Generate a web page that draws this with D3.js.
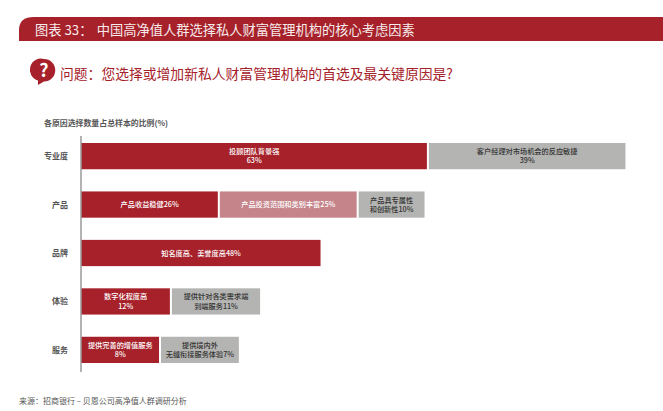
<!DOCTYPE html>
<html><head><meta charset="utf-8">
<script src="https://cdn.jsdelivr.net/npm/d3@7/dist/d3.min.js"></script>
<style>html,body{margin:0;padding:0;background:#fff}svg{display:block}text{font-family:"Noto Sans CJK SC","Noto Sans",sans-serif}</style>
</head><body><svg id="c" width="663" height="411"></svg>
<script>
// Category rows, top to bottom
const categories = ["专业度","产品","品牌","体验","服务"];
// Segment lengths as drawn in the picture (share of the longest bar = 100).
// The printed percentages are labels only: the source's bars do not scale with them.
const row1Lengths = [63.8, 36.1];
const row2Lengths = [25.4, 25.5, 12.1];
const row3Lengths = [43.9];
const row4Lengths = [16.6, 16.2];
const row5Lengths = [14.6, 14.3];
const row1Labels = [["投顾团队背景强","63%"],["客户经理对市场机会的反应敏捷","39%"]];
const row2Labels = [["产品收益稳健26%"],["产品投资范围和类别丰富25%"],["产品具专属性","和创新性10%"]];
const row3Labels = [["知名度高、美誉度高48%"]];
const row4Labels = [["数字化程度高","12%"],["提供针对各类需求端","到端服务11%"]];
const row5Labels = [["提供完善的增值服务","8%"],["提供境内外","无缝衔接服务体验7%"]];
const row1Kinds = ["main","other"];
const row2Kinds = ["main","second","other"];
const row3Kinds = ["main"];
const row4Kinds = ["main","other"];
const row5Kinds = ["main","other"];
const titlePrefix = "图表 33：";
const titleText = "中国高净值人群选择私人财富管理机构的核心考虑因素";
const questionText = "问题：您选择或增加新私人财富管理机构的首选及最关键原因是?";
const axisTitle = "各原因选择数量占总样本的比例(%)";
const sourceText = "来源：招商银行 – 贝恩公司高净值人群调研分析";

const RED="#a6212a", PINK="#c4848a", GRAY="#b4b4b2";
const fills={main:RED,second:PINK,other:GRAY};
const inks={main:"#fff",second:"#fff",other:"#333"};
const svg=d3.select("#c");

// header band
svg.append("path").attr("d","M19,41 V30 Q19,17 34,17 H663 V41 Z").attr("fill",RED);
const tt=svg.append("text").attr("y",34.5).attr("font-size",13.26).attr("fill","#f7ecec");
tt.append("tspan").attr("x",35).text(titlePrefix);
tt.append("tspan").attr("x",96.7).text(titleText);

// question
svg.append("path").attr("d","M44,59 a11,11 0 1 1 0,22.5 l-6,3.5 l0,-4.5 a11,11 0 0 1 6,-21.5 Z").attr("fill",RED);
svg.append("text").attr("x",44).attr("y",76.5).attr("text-anchor","middle").attr("font-size",18).attr("font-weight",700).attr("fill","#fff").attr("font-family","Liberation Sans").text("?");
svg.append("text").attr("x",60).attr("y",78.5).attr("font-size",13.8).attr("fill","#a6212a").text(questionText);

svg.append("text").attr("x",44).attr("y",126).attr("font-size",7.9).attr("font-weight",700).attr("fill","#555").text(axisTitle);

const x=d3.scaleLinear().domain([0,100]).range([81.5,626]);
const y=d3.scaleBand().domain(categories).range([143,363]).paddingInner(22/48).paddingOuter(0);
const rows=[[row1Lengths,row1Labels,row1Kinds],[row2Lengths,row2Labels,row2Kinds],[row3Lengths,row3Labels,row3Kinds],[row4Lengths,row4Labels,row4Kinds],[row5Lengths,row5Labels,row5Kinds]];
const gap=2;
categories.forEach((c,i)=>{
  const [lens,labs,kinds]=rows[i];
  const yy=y(c), h=y.bandwidth();
  svg.append("text").attr("x",68).attr("y",yy+h/2+3).attr("text-anchor","end").attr("font-size",8).attr("font-weight",700).attr("fill","#555").text(c);
  let s=0;
  lens.forEach((l,j)=>{
    const x0=x(s), x1=x(s+l)-(j<lens.length-1?gap:0);
    svg.append("rect").attr("x",x0).attr("y",yy).attr("width",x1-x0).attr("height",h).attr("fill",fills[kinds[j]]);
    const t=svg.append("text").attr("text-anchor","middle").attr("font-size",7.2).attr("font-weight",500).attr("fill",inks[kinds[j]]);
    const ls=labs[j], lh=9.2, start=yy+h/2+2.6-(ls.length-1)*lh/2;
    ls.forEach((line,k)=>t.append("tspan").attr("x",(x0+x1)/2).attr("y",start+k*lh).text(line));
    s+=l;
  });
});
// category axis line
svg.append("line").attr("x1",81).attr("x2",81).attr("y1",136).attr("y2",372).attr("stroke","#666").attr("stroke-width",1);

svg.append("text").attr("x",19).attr("y",404).attr("font-size",8).attr("fill","#555").text(sourceText);
</script></body></html>
